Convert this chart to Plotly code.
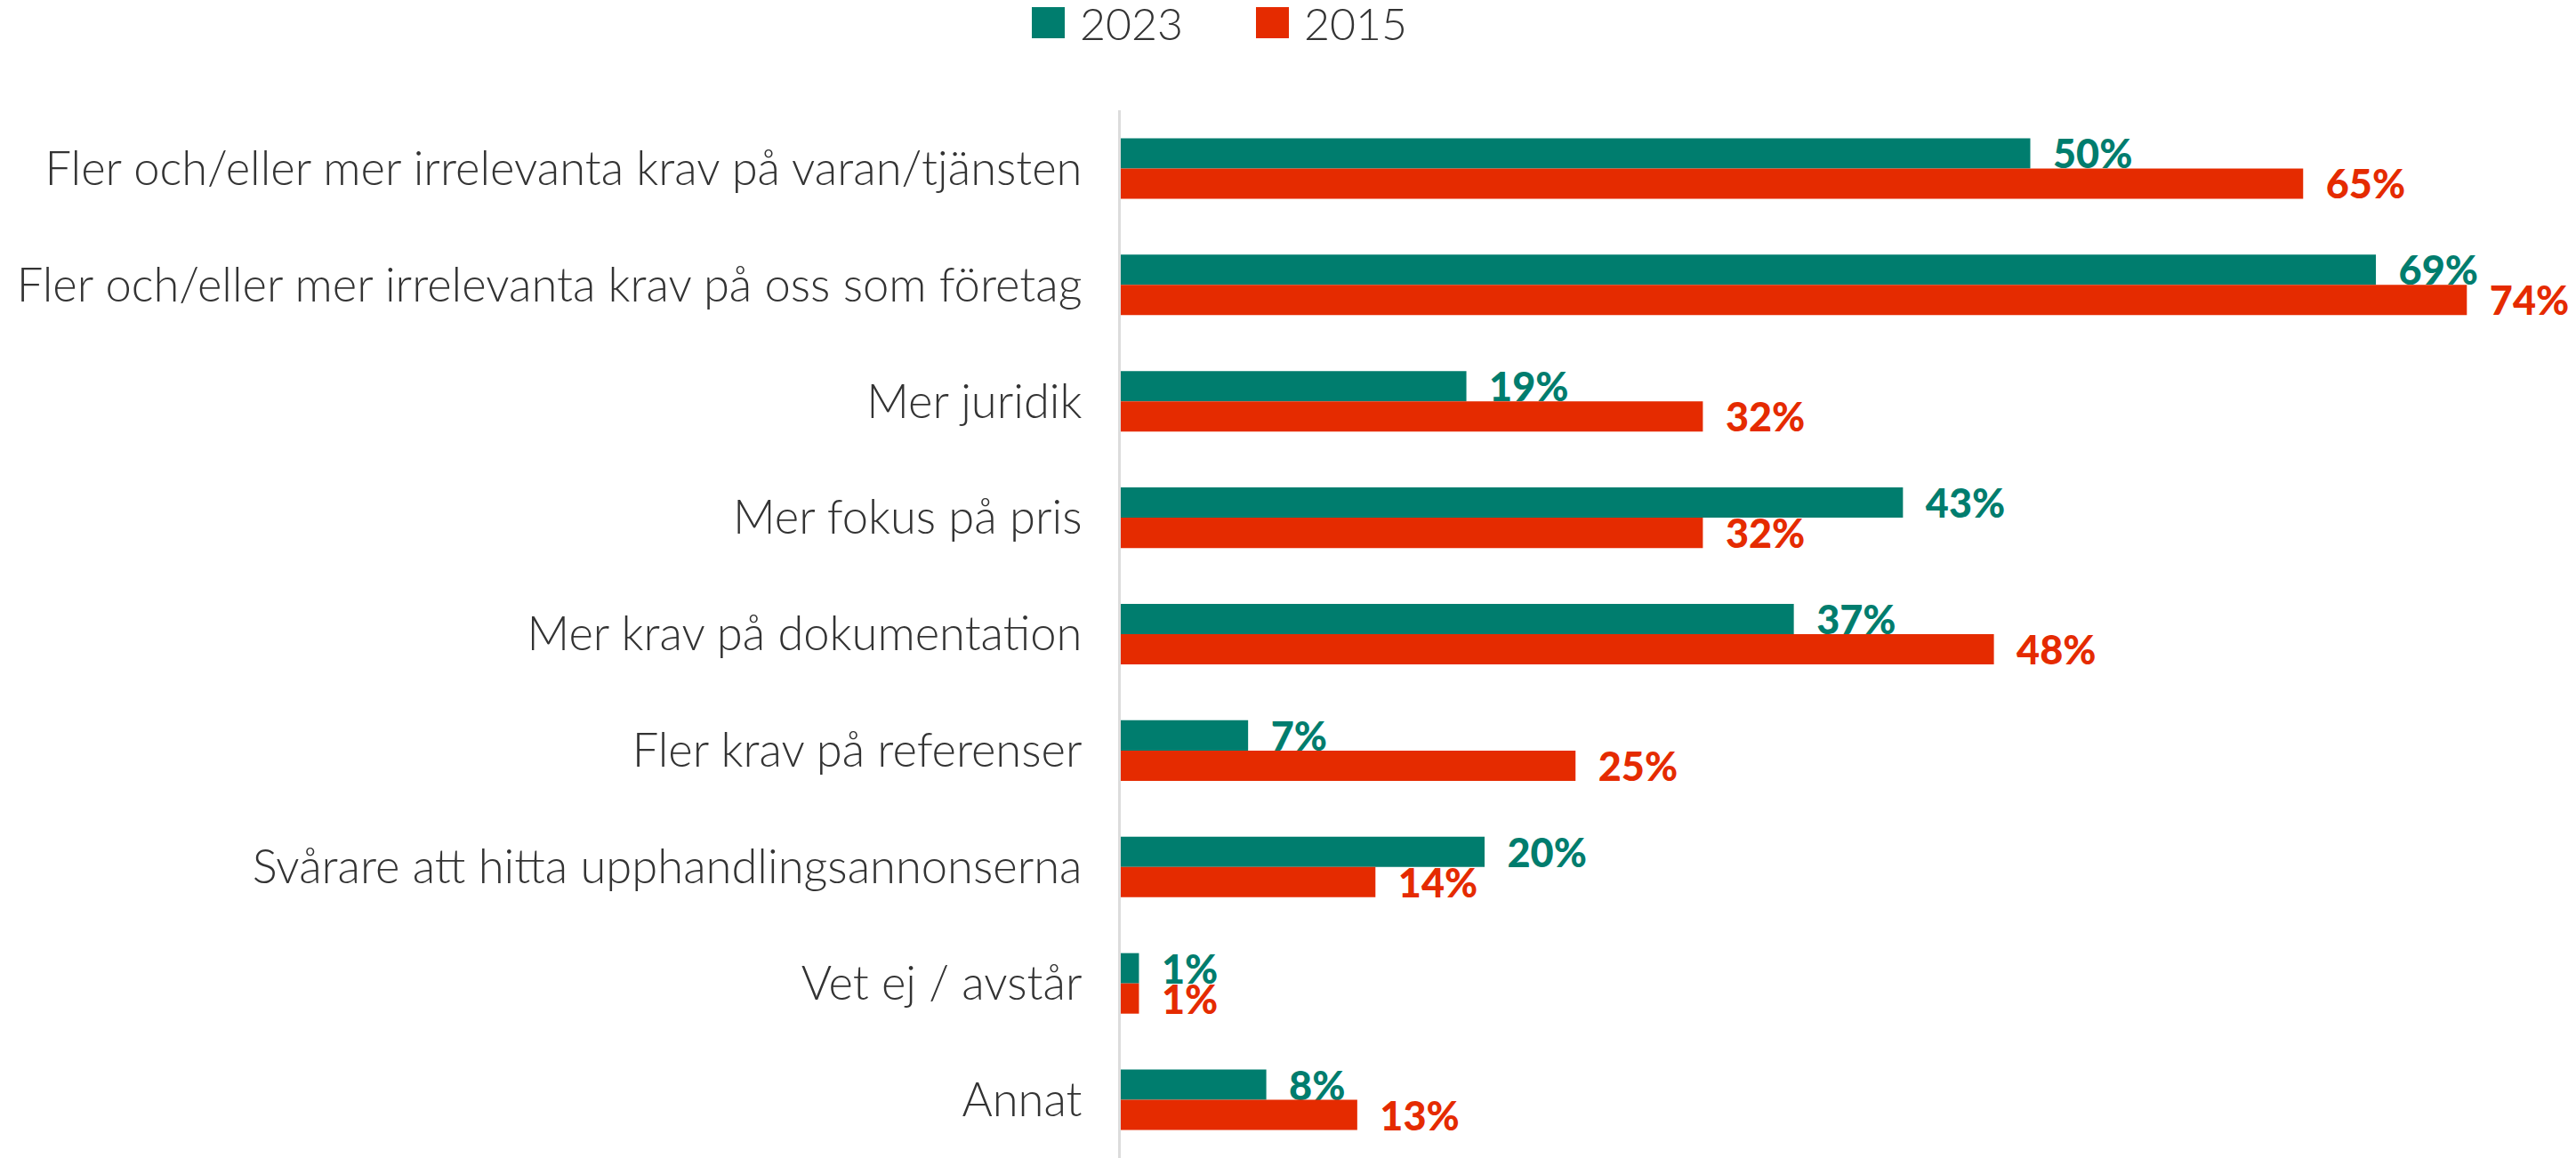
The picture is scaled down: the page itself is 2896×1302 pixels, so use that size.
import plotly.graph_objects as go

categories = [
    "Fler och/eller mer irrelevanta krav på varan/tjänsten",
    "Fler och/eller mer irrelevanta krav på oss som företag",
    "Mer juridik",
    "Mer fokus på pris",
    "Mer krav på dokumentation",
    "Fler krav på referenser",
    "Svårare att hitta upphandlingsannonserna",
    "Vet ej / avstår",
    "Annat",
]
values_2023 = [50, 69, 19, 43, 37, 7, 20, 1, 8]
values_2015 = [65, 74, 32, 32, 48, 25, 14, 1, 13]
series_names = ["2023", "2015"]

TEAL = "#007d6e"
RED = "#e52b00"
TEXT = "#333333"

# the page adds an 8px body margin, so the figure is 8px smaller than the window
OFF = 8
W, H = 2896 - OFF, 1302 - OFF
ML, MR, MT, MB = 1260 - OFF, 0, 124 - OFF, 0
PW, PH = W - ML - MR, H - MT - MB


def px_x(px):
    return (px - OFF - ML) / PW


def px_y(py):
    return (H - MB - (py - OFF)) / PH


fig = go.Figure()
for name, vals, col in [(series_names[0], values_2023, TEAL), (series_names[1], values_2015, RED)]:
    fig.add_trace(go.Bar(
        y=categories, x=vals, orientation="h", name=name,
        marker=dict(color=col, line=dict(width=0)),
        text=vals, texttemplate="\u2002%{x}%", textposition="outside",
        textfont=dict(family="Lato", size=45, color=col, weight=900),
        constraintext="none", cliponaxis=False, showlegend=False,
    ))

# Manual legend (large square swatches)
legend_items = [(series_names[0], TEAL, 1160), (series_names[1], RED, 1412)]
for name, col, x0 in legend_items:
    fig.add_shape(type="rect", xref="paper", yref="paper",
                  x0=px_x(x0), x1=px_x(x0 + 37), y0=px_y(43), y1=px_y(6),
                  fillcolor=col, line=dict(width=0))
    fig.add_annotation(xref="paper", yref="paper", x=px_x(x0 + 52), y=px_y(26),
                       text=name, showarrow=False, xanchor="left", yanchor="middle",
                       font=dict(family="Lato", size=50, color=TEXT, weight=300))

fig.update_layout(
    width=W, height=H,
    margin=dict(l=ML, r=MR, t=MT, b=MB, pad=0, autoexpand=False),
    barmode="group", bargap=0.48, bargroupgap=0,
    plot_bgcolor="white", paper_bgcolor="white",
    font=dict(family="Lato", color=TEXT),
    showlegend=False,
)
fig.update_xaxes(range=[0, 80], visible=False, showgrid=False, zeroline=False,
                 automargin=False)
fig.update_yaxes(
    range=[8.5, -0.5], showgrid=False, zeroline=False, automargin=False,
    showline=True, linecolor="#dcdcdc", linewidth=3,
    ticks="", ticklabelstandoff=30,
    tickfont=dict(family="Lato", size=52.5, color=TEXT, weight=300),
)

fig.write_html("out.html")
